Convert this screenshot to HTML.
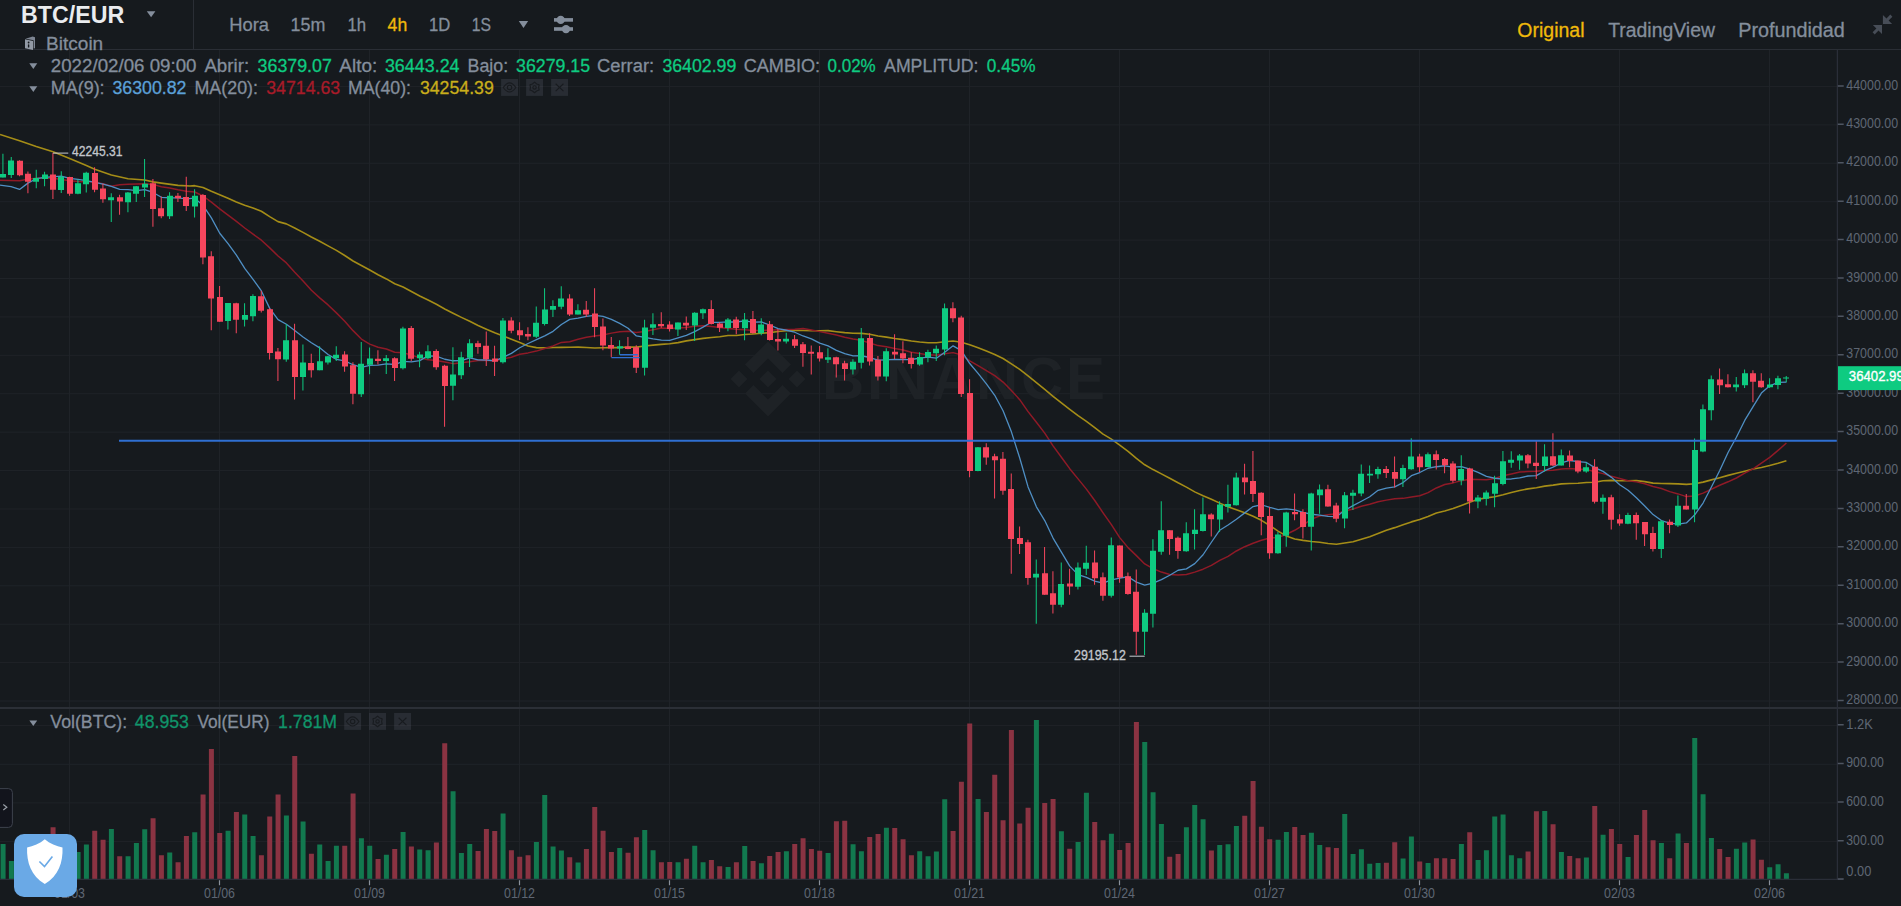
<!DOCTYPE html>
<html lang="es"><head><meta charset="utf-8"><title>BTC/EUR | Binance</title>
<style>
html,body{margin:0;padding:0;background:#161a1e;}
body{width:1901px;height:906px;overflow:hidden;position:relative;font-family:"Liberation Sans",sans-serif;}
</style></head><body>
<svg width="1901" height="906" viewBox="0 0 1901 906" style="position:absolute;left:0;top:0;display:block" font-family="&quot;Liberation Sans&quot;, sans-serif">
<rect width="1901" height="906" fill="#161a1e"/>
<path d="M0 86.45H1837M0 124.86H1837M0 163.27H1837M0 201.68H1837M0 240.09H1837M0 278.5H1837M0 316.91H1837M0 355.32H1837M0 393.73H1837M0 432.14H1837M0 470.55H1837M0 508.96H1837M0 547.37H1837M0 585.78H1837M0 624.19H1837M0 662.6H1837M0 701.01H1837M0 725.6H1837M0 764.3H1837M0 802.9H1837M0 841.6H1837" stroke="#1f2328" stroke-width="1" fill="none"/>
<path d="M69.5 50V879M219.5 50V879M369.5 50V879M519.5 50V879M669.5 50V879M819.5 50V879M969.5 50V879M1119.5 50V879M1269.5 50V879M1419.5 50V879M1619.5 50V879M1769.5 50V879" stroke="#1f2328" stroke-width="1" fill="none" shape-rendering="crispEdges"/>
<g fill="#1e2226"><g transform="translate(730.5 341.5) scale(0.592)"><path d="M38.73 53.2L63.3 28.63l24.58 24.58 14.3-14.3L63.3 0 24.43 38.9zM0 63.31l14.3-14.31 14.31 14.31-14.31 14.3zM38.73 73.41L63.3 97.98l24.58-24.58 14.31 14.29L63.3 126.61 24.43 87.74l-.02-.02zM98 63.31l14.3-14.31 14.31 14.3-14.31 14.32zM77.83 63.3L63.3 48.78 52.58 59.5l-1.24 1.23-2.54 2.54 14.5 14.52 14.53-14.51z"/></g><text x="822" y="399.3" font-size="58.5" font-weight="bold" textLength="283" lengthAdjust="spacing">BINANCE</text></g>
<path d="M1783.9 873.35h5V879.5h-5zM1775.57 864.24h5V879.5h-5zM1767.23 867.28h5V879.5h-5zM1742.23 842.6h5V879.5h-5zM1733.9 848.67h5V879.5h-5zM1708.9 838.04h5V879.5h-5zM1700.57 794.19h5V879.5h-5zM1692.23 738h5V879.5h-5zM1675.57 833.49h5V879.5h-5zM1658.9 842.98h5V879.5h-5zM1625.57 857.02h5V879.5h-5zM1600.57 834.82h5V879.5h-5zM1583.9 857.59h5V879.5h-5zM1558.9 852.09h5V879.5h-5zM1542.23 811.09h5V879.5h-5zM1517.23 858.16h5V879.5h-5zM1508.9 855.32h5V879.5h-5zM1500.57 814.5h5V879.5h-5zM1492.23 816.4h5V879.5h-5zM1483.9 850.19h5V879.5h-5zM1475.57 860.06h5V879.5h-5zM1458.9 844.12h5V879.5h-5zM1425.57 863.1h5V879.5h-5zM1408.9 836.52h5V879.5h-5zM1400.57 858.54h5V879.5h-5zM1375.57 863.1h5V879.5h-5zM1367.23 863.86h5V879.5h-5zM1358.9 849.24h5V879.5h-5zM1350.57 853.99h5V879.5h-5zM1342.23 813.93h5V879.5h-5zM1317.23 844.88h5V879.5h-5zM1308.9 832.73h5V879.5h-5zM1283.9 831.97h5V879.5h-5zM1275.57 839.75h5V879.5h-5zM1233.9 825.89h5V879.5h-5zM1225.57 844.31h5V879.5h-5zM1217.23 845.07h5V879.5h-5zM1200.57 819.25h5V879.5h-5zM1192.23 805.01h5V879.5h-5zM1183.9 827.22h5V879.5h-5zM1158.9 824h5V879.5h-5zM1150.57 792.29h5V879.5h-5zM1142.23 741.99h5V879.5h-5zM1108.9 833.87h5V879.5h-5zM1083.9 792.67h5V879.5h-5zM1075.57 842.03h5V879.5h-5zM1058.9 831.21h5V879.5h-5zM1033.9 719.97h5V879.5h-5zM975.57 798.94h5V879.5h-5zM942.23 799.32h5V879.5h-5zM933.9 851.52h5V879.5h-5zM925.57 856.27h5V879.5h-5zM917.23 851.14h5V879.5h-5zM883.9 827.79h5V879.5h-5zM858.9 851.14h5V879.5h-5zM850.57 844.31h5V879.5h-5zM825.57 853.04h5V879.5h-5zM783.9 851.14h5V879.5h-5zM758.9 863.29h5V879.5h-5zM742.23 846.01h5V879.5h-5zM725.57 866.9h5V879.5h-5zM700.57 862.34h5V879.5h-5zM692.23 845.83h5V879.5h-5zM675.57 862.34h5V879.5h-5zM650.57 850.19h5V879.5h-5zM642.23 830.07h5V879.5h-5zM617.23 848.1h5V879.5h-5zM575.57 862.53h5V879.5h-5zM558.9 850.57h5V879.5h-5zM550.57 846.39h5V879.5h-5zM542.23 794.95h5V879.5h-5zM533.9 842.03h5V879.5h-5zM500.57 813.55h5V879.5h-5zM467.23 843.93h5V879.5h-5zM458.9 853.04h5V879.5h-5zM450.57 791.35h5V879.5h-5zM425.57 850.19h5V879.5h-5zM417.23 849.62h5V879.5h-5zM400.57 831.97h5V879.5h-5zM383.9 854.75h5V879.5h-5zM367.23 845.83h5V879.5h-5zM358.9 838.23h5V879.5h-5zM333.9 845.83h5V879.5h-5zM325.57 861.01h5V879.5h-5zM317.23 844.5h5V879.5h-5zM300.57 821.53h5V879.5h-5zM283.9 815.45h5V879.5h-5zM250.57 835.95h5V879.5h-5zM242.23 814.5h5V879.5h-5zM225.57 830.64h5V879.5h-5zM192.23 832.16h5V879.5h-5zM167.23 852.47h5V879.5h-5zM142.23 829.31h5V879.5h-5zM133.9 842.98h5V879.5h-5zM125.57 856.27h5V879.5h-5zM108.9 829.12h5V879.5h-5zM83.9 844.5h5V879.5h-5zM75.57 852.09h5V879.5h-5zM58.9 842.98h5V879.5h-5zM42.23 848.67h5V879.5h-5zM33.9 854.37h5V879.5h-5zM8.9 861.01h5V879.5h-5zM0.57 843.93h5V879.5h-5z" fill="#12794f"/>
<path d="M1758.9 859.87h5V879.5h-5zM1750.57 839.56h5V879.5h-5zM1725.57 857.02h5V879.5h-5zM1717.23 849.05h5V879.5h-5zM1683.9 842.98h5V879.5h-5zM1667.23 858.16h5V879.5h-5zM1650.57 840.13h5V879.5h-5zM1642.23 809.95h5V879.5h-5zM1633.9 835.01h5V879.5h-5zM1617.23 844.12h5V879.5h-5zM1608.9 828.93h5V879.5h-5zM1592.23 805.96h5V879.5h-5zM1575.57 858.35h5V879.5h-5zM1567.23 856.08h5V879.5h-5zM1550.57 824.19h5V879.5h-5zM1533.9 811.28h5V879.5h-5zM1525.57 851.52h5V879.5h-5zM1467.23 832.35h5V879.5h-5zM1450.57 859.11h5V879.5h-5zM1442.23 858.16h5V879.5h-5zM1433.9 858.35h5V879.5h-5zM1417.23 861.39h5V879.5h-5zM1392.23 842.22h5V879.5h-5zM1383.9 862.72h5V879.5h-5zM1333.9 848.1h5V879.5h-5zM1325.57 847.15h5V879.5h-5zM1300.57 835.01h5V879.5h-5zM1292.23 827.03h5V879.5h-5zM1267.23 839.18h5V879.5h-5zM1258.9 826.84h5V879.5h-5zM1250.57 781.09h5V879.5h-5zM1242.23 815.83h5V879.5h-5zM1208.9 850.57h5V879.5h-5zM1175.57 853.99h5V879.5h-5zM1167.23 856.65h5V879.5h-5zM1133.9 722.06h5V879.5h-5zM1125.57 842.98h5V879.5h-5zM1117.23 850h5V879.5h-5zM1100.57 840.13h5V879.5h-5zM1092.23 822.1h5V879.5h-5zM1067.23 848.67h5V879.5h-5zM1050.57 798.94h5V879.5h-5zM1042.23 803.11h5V879.5h-5zM1025.57 807.86h5V879.5h-5zM1017.23 823.43h5V879.5h-5zM1008.9 730.03h5V879.5h-5zM1000.57 820.2h5V879.5h-5zM992.23 774.64h5V879.5h-5zM983.9 812.04h5V879.5h-5zM967.23 723.39h5V879.5h-5zM958.9 781.85h5V879.5h-5zM950.57 831.02h5V879.5h-5zM908.9 855.32h5V879.5h-5zM900.57 839.18h5V879.5h-5zM892.23 827.98h5V879.5h-5zM875.57 834.06h5V879.5h-5zM867.23 837.09h5V879.5h-5zM842.23 820.77h5V879.5h-5zM833.9 821.15h5V879.5h-5zM817.23 850.76h5V879.5h-5zM808.9 849.05h5V879.5h-5zM800.57 838.23h5V879.5h-5zM792.23 843.93h5V879.5h-5zM775.57 852.09h5V879.5h-5zM767.23 855.89h5V879.5h-5zM750.57 861.01h5V879.5h-5zM733.9 862.34h5V879.5h-5zM717.23 866.14h5V879.5h-5zM708.9 860.06h5V879.5h-5zM683.9 858.73h5V879.5h-5zM667.23 861.96h5V879.5h-5zM658.9 862.34h5V879.5h-5zM633.9 837.28h5V879.5h-5zM625.57 852.85h5V879.5h-5zM608.9 852.09h5V879.5h-5zM600.57 830.64h5V879.5h-5zM592.23 806.91h5V879.5h-5zM583.9 849.05h5V879.5h-5zM567.23 857.21h5V879.5h-5zM525.57 855.32h5V879.5h-5zM517.23 856.84h5V879.5h-5zM508.9 850.19h5V879.5h-5zM492.23 831.02h5V879.5h-5zM483.9 829.12h5V879.5h-5zM475.57 850.95h5V879.5h-5zM442.23 743.32h5V879.5h-5zM433.9 842.6h5V879.5h-5zM408.9 846.39h5V879.5h-5zM392.23 849.05h5V879.5h-5zM375.57 859.11h5V879.5h-5zM350.57 793.62h5V879.5h-5zM342.23 845.83h5V879.5h-5zM308.9 853.8h5V879.5h-5zM292.23 756.04h5V879.5h-5zM275.57 794.57h5V879.5h-5zM267.23 816.4h5V879.5h-5zM258.9 855.32h5V879.5h-5zM233.9 812.04h5V879.5h-5zM217.23 832.92h5V879.5h-5zM208.9 749.01h5V879.5h-5zM200.57 794.57h5V879.5h-5zM183.9 835.95h5V879.5h-5zM175.57 862.34h5V879.5h-5zM158.9 855.32h5V879.5h-5zM150.57 818.3h5V879.5h-5zM117.23 856.27h5V879.5h-5zM100.57 839.75h5V879.5h-5zM92.23 830.64h5V879.5h-5zM67.23 850.57h5V879.5h-5zM50.57 827.22h5V879.5h-5zM25.57 846.77h5V879.5h-5zM17.23 842.98h5V879.5h-5z" fill="#8a3342"/>
<path d="M0 134.52L19.57 140.83L36.24 146.52L53.03 151.82L69.7 158.51L86.36 165.45L94.7 169.24L111.36 174.92L128.03 178.71L144.7 179.97L153.03 181.87L161.36 183.13L178.03 185.4L190 186.01L194.7 185.66L203.01 187.53L211.34 191.31L219.67 194.85L228.01 198.26L236.34 202.05L244.67 205.2L253.01 207.98L261.34 211.26L269.67 216.57L278.01 221.62L286.34 223.89L294.67 227.93L303.01 232.35L311.34 237.02L319.67 241.19L328.07 245.86L336.4 250.38L344.73 255.53L353.07 260.99L361.4 265.54L369.73 270.05L378.07 274.71L386.4 278.92L394.73 283.7L403.07 287.07L411.4 291.46L419.73 296L428.07 300.04L436.4 304.24L444.73 308.96L453.07 313.28L461.4 317.4L469.73 321.33L478.07 325.41L486.4 329.16L494.73 332.8L503.07 335.91L511.4 339.23L519.73 342.45L528.07 345.97L536.4 347.6L544.73 347.87L553.07 347.47L561.4 347.36L569.73 347.23L578.07 347.11L586.4 347.57L594.73 347.97L603.07 347.79L611.4 347.52L619.73 347.67L628.07 346.97L636.4 347.1L644.73 346.03L653.07 345.1L661.4 344.35L669.73 343.71L678.07 342.61L686.4 340.9L694.73 339.62L703.07 338.39L711.4 337.47L719.73 336.71L728.07 335.49L736.4 335.48L744.73 334.49L753.07 333.96L761.4 333.29L769.73 332.6L778.07 331.49L786.4 330.6L794.73 330.31L803.07 330.55L811.4 330.72L819.73 330.71L828.07 330.6L836.4 331.7L844.73 332.65L853.07 333.32L861.4 333.36L869.73 334.33L878.07 336.01L886.4 337.14L894.73 338.55L903.07 339.65L911.4 340.99L919.73 342.06L928.07 342.68L936.4 342.76L944.73 341.76L953.07 341.06L961.4 342.18L969.73 344.77L978.07 347.76L986.4 351.09L994.73 354.45L1003.07 358.49L1011.4 363.9L1019.73 369.36L1028.07 375.99L1036.4 382.61L1044.73 389.38L1053.07 396.3L1061.4 402.92L1069.73 409.38L1078.07 415.58L1086.4 421.32L1094.73 427.67L1103.07 434.06L1111.4 439.15L1119.73 445.12L1128.07 451.33L1136.4 458.3L1144.73 464.77L1153.07 469.58L1161.4 473.9L1169.73 478.27L1178.07 482.82L1186.4 487.1L1194.73 491.89L1203.07 495.71L1211.4 499.27L1219.73 503.11L1228.07 506.85L1236.4 509.82L1244.73 512.78L1253.07 516.2L1261.4 520.33L1269.73 525.45L1278.07 531.1L1286.4 535.95L1294.73 538.96L1303.07 540.36L1311.4 541.51L1319.73 542.31L1328.07 543.47L1336.4 544.18L1344.73 543.08L1353.07 541.8L1361.4 539.2L1369.73 536.7L1378.07 533.55L1386.4 530.26L1394.73 527.63L1403.07 524.66L1411.4 521.89L1419.73 519.5L1428.07 516.4L1436.4 513.02L1444.73 511.02L1453.07 508.6L1461.4 505.47L1469.73 502.21L1478.07 499.33L1486.4 497.88L1494.73 496.7L1503.07 494.76L1511.4 492.48L1519.73 490.54L1528.07 488.88L1536.4 487.68L1544.73 486.11L1553.07 485.13L1561.4 483.91L1569.73 483.5L1578.07 483.23L1586.4 482.56L1594.73 482.18L1603.07 480.79L1611.4 480.42L1619.73 480.69L1628.07 480.71L1636.4 480.61L1644.73 481.63L1653.07 483.12L1661.4 483.49L1669.73 483.64L1678.07 483.91L1686.4 484.33L1694.73 483.73L1703.07 482.11L1711.4 479.87L1719.73 477.68L1728.07 475.39L1736.4 473.31L1744.73 471.22L1753.07 469.09L1761.4 467.41L1769.73 465.52L1778.07 463.35L1786.4 460.77" stroke="#a58d17" stroke-width="1.6" fill="none" stroke-linejoin="round"/>
<path d="M0 180.35L19.57 180.86L27.9 179.34L36.24 178.33L53.03 178.33L69.7 180.86L78.28 181.62L94.7 182.12L103.03 183.76L111.36 186.29L119.7 184.65L128.03 184.14L144.7 183.76L153.03 184.39L161.4 186.81L169.73 187.9L178.07 189.79L186.4 191.33L194.73 192.03L203.07 196L211.4 202.21L219.73 208.8L228.07 215.11L236.4 221.4L244.73 228L253.07 234.16L261.4 240.22L269.73 247.9L278.07 255.99L286.4 262.93L294.73 272.15L303.07 280.97L311.4 290.3L319.73 297.91L328.07 304.92L336.4 312.86L344.73 321.27L353.07 330.65L361.4 339.06L369.73 344.1L378.07 347.22L386.4 349.04L394.73 352.29L403.07 352.73L411.4 354.92L419.73 357.84L428.07 359.86L436.4 360.58L444.73 361.92L453.07 363.64L461.4 362.65L469.73 361.69L478.07 360.52L486.4 360.41L494.73 360.67L503.07 358.97L511.4 357.19L519.73 354.26L528.07 352.89L536.4 351.1L544.73 348.52L553.07 345.91L561.4 342.43L569.73 341.72L578.07 339.29L586.4 337.29L594.73 336.09L603.07 334.99L611.4 333.12L619.73 331.7L628.07 331.29L636.4 332.51L644.73 331.54L653.07 329.8L661.4 328.02L669.73 328.45L678.07 328.03L686.4 327.55L694.73 326.36L703.07 325.68L711.4 326.41L719.73 327.5L728.07 328.55L736.4 329.23L744.73 329.69L753.07 330.62L761.4 330.49L769.73 330.21L778.07 329.87L786.4 329.49L794.73 329.32L803.07 328.59L811.4 329.91L819.73 331.62L828.07 333.17L836.4 334.94L844.73 337.27L853.07 339.08L861.4 340.36L869.73 342.98L878.07 345.61L886.4 346.79L894.73 348.54L903.07 350.07L911.4 352.3L919.73 353.5L928.07 354.87L936.4 355.31L944.73 353.64L953.07 352.62L961.4 355.05L969.73 360.95L978.07 365.62L986.4 370.57L994.73 375.72L1003.07 382.04L1011.4 390.54L1019.73 399.64L1028.07 411.63L1036.4 422.24L1044.73 433.15L1053.07 445.82L1061.4 457.29L1069.73 468.68L1078.07 478.86L1086.4 489.15L1094.73 500.46L1103.07 512.81L1111.4 524.66L1119.73 537.62L1128.07 547.62L1136.4 555.65L1144.73 563.92L1153.07 568.59L1161.4 572.08L1169.73 574.5L1178.07 575.1L1186.4 574.56L1194.73 572.15L1203.07 569.17L1211.4 565.4L1219.73 560.4L1228.07 556.4L1236.4 550.96L1244.73 546.7L1253.07 543.26L1261.4 540.19L1269.73 538.08L1278.07 537.54L1286.4 534.29L1294.73 530.3L1303.07 525.06L1311.4 519.1L1319.73 516.04L1328.07 514.86L1336.4 513.85L1344.73 511.06L1353.07 509.04L1361.4 506.24L1369.73 504.22L1378.07 501.7L1386.4 500.12L1394.73 498.85L1403.07 498.37L1411.4 497.08L1419.73 495.75L1428.07 492.61L1436.4 487.95L1444.73 484.49L1453.07 482.9L1461.4 480.64L1469.73 479.36L1478.07 479.56L1486.4 479.71L1494.73 478.55L1503.07 475.67L1511.4 473.9L1519.73 472.04L1528.07 471.52L1536.4 471.14L1544.73 470.52L1553.07 470.14L1561.4 468.97L1569.73 468.62L1578.07 469.37L1586.4 469.37L1594.73 471.74L1603.07 473.62L1611.4 476.35L1619.73 478.48L1628.07 480.78L1636.4 481.87L1644.73 483.7L1653.07 486.53L1661.4 488.43L1669.73 491.61L1678.07 493.91L1686.4 496.61L1694.73 495.93L1703.07 493.09L1711.4 489.22L1719.73 485.22L1728.07 481.81L1736.4 477.99L1744.73 473.08L1753.07 468.8L1761.4 463.07L1769.73 457.42L1778.07 450.35L1786.4 443.06" stroke="#8f1a27" stroke-width="1.5" fill="none" stroke-linejoin="round"/>
<path d="M0 185.03L11.11 186.67L19.57 189.44L27.9 183.13L36.24 178.71L44.57 177.45L61.36 176.19L69.73 178.31L78.07 179.32L86.4 180.69L94.73 182.29L103.07 184.23L111.4 186.36L119.73 189.35L128.07 189.65L136.4 190.71L144.73 189.58L153.07 192.46L161.4 197.29L169.73 197.96L178.07 197.85L186.4 198.83L194.73 198.2L203.07 205.42L211.4 217.9L219.73 233.24L228.07 243.68L236.4 255.18L244.73 268.43L253.07 279.29L261.4 290.93L269.73 308.38L278.07 319.67L286.4 324.29L294.73 330.43L303.07 337.05L311.4 342.68L319.73 347.83L328.07 354.52L336.4 359.39L344.73 360.89L353.07 364.73L361.4 367.37L369.73 365.31L378.07 365.13L386.4 363.78L394.73 364.52L403.07 361.44L411.4 361.9L419.73 360.57L428.07 355.84L436.4 356.23L444.73 359.26L453.07 360.77L461.4 360.67L469.73 357.93L478.07 359.97L486.4 360.01L494.73 360.82L503.07 357.4L511.4 353.35L519.73 347.71L528.07 343.47L536.4 339.64L544.73 335.87L553.07 331.32L561.4 324.57L569.73 319.33L578.07 318.18L586.4 316.35L594.73 315.45L603.07 316.46L611.4 319.31L619.73 323.41L628.07 328.19L636.4 335.9L644.73 337.34L653.07 338.91L661.4 340.22L669.73 340.44L678.07 337.87L686.4 335.33L694.73 331.6L703.07 327.17L711.4 322.31L719.73 322.35L728.07 321.8L736.4 322L744.73 320.92L753.07 322.1L761.4 321.98L769.73 325.01L778.07 328.62L786.4 330.25L794.73 332.24L803.07 335.98L811.4 338.85L819.73 343.2L828.07 345.9L836.4 350.33L844.73 353.55L853.07 355.8L861.4 355.76L869.73 357.51L878.07 360.13L886.4 359.85L894.73 359.41L903.07 359.55L911.4 359.5L919.73 358.17L928.07 357.08L936.4 358.22L944.73 352.31L953.07 345.84L961.4 350.6L969.73 363.54L978.07 373.41L986.4 383.8L994.73 395.28L1003.07 410.69L1011.4 431.85L1019.73 458.03L1028.07 486.88L1036.4 506.84L1044.73 520.58L1053.07 538.07L1061.4 552.12L1069.73 566.13L1078.07 574.67L1086.4 577.3L1094.73 581.12L1103.07 583.08L1111.4 579.9L1119.73 578.01L1128.07 576.82L1136.4 582.12L1144.73 585.05L1153.07 583.19L1161.4 579.56L1169.73 575.21L1178.07 570.26L1186.4 568.92L1194.73 563.62L1203.07 554.75L1211.4 542.25L1219.73 530.23L1228.07 525.05L1236.4 519.2L1244.73 512.89L1253.07 506.55L1261.4 504.75L1269.73 507.36L1278.07 509.6L1286.4 508.86L1294.73 509.93L1303.07 512.48L1311.4 514.26L1319.73 515.06L1328.07 516.46L1336.4 516.68L1344.73 510.22L1353.07 505.59L1361.4 501.29L1369.73 496.8L1378.07 490.34L1386.4 488.04L1394.73 486.85L1403.07 482.55L1411.4 475.63L1419.73 472.52L1428.07 468.25L1436.4 466.73L1444.73 465.77L1453.07 467.09L1461.4 466.64L1469.73 469.16L1478.07 472.46L1486.4 476.46L1494.73 478.24L1503.07 479.03L1511.4 478.98L1519.73 477.92L1528.07 476L1536.4 475.67L1544.73 470.69L1553.07 467.12L1561.4 462.98L1569.73 460.49L1578.07 461.62L1586.4 462.46L1594.73 467.59L1603.07 471.39L1611.4 477.35L1619.73 484.78L1628.07 490.28L1636.4 497.83L1644.73 505.97L1653.07 514.59L1661.4 520.59L1669.73 523.18L1678.07 524.08L1686.4 522.96L1694.73 514.79L1703.07 503.04L1711.4 487.04L1719.73 470.48L1728.07 452.49L1736.4 437.3L1744.73 420.44L1753.07 406.65L1761.4 393.05L1769.73 385.8L1778.07 382.36L1786.4 382.18" stroke="#4f8fc4" stroke-width="1.3" fill="none" stroke-linejoin="round"/>
<path d="M1785.75 376.04h1V382.35h-1zM1777.42 375.78h1V389.29h-1zM1769.08 378.31h1V388.03h-1zM1744.08 369.47h1V388.03h-1zM1735.75 377.05h1V391.57h-1zM1710.75 375.4h1V420.35h-1zM1702.42 404.44h1V452.17h-1zM1694.08 438.5h1V522.2h-1zM1677.42 495.4h1V526.97h-1zM1660.75 520.03h1V557.9h-1zM1627.42 512.83h1V524.19h-1zM1602.42 494.39h1V513.71h-1zM1585.75 462.63h1V472.73h-1zM1560.75 449.62h1V465.4h-1zM1544.08 444.19h1V471.46h-1zM1519.08 454.04h1V469.82h-1zM1510.75 451.26h1V467.68h-1zM1502.42 450.88h1V485.35h-1zM1494.08 475.76h1V507.32h-1zM1485.75 490.4h1V505.56h-1zM1477.42 495.08h1V508.33h-1zM1460.75 455.3h1V485.35h-1zM1427.42 452.53h1V467.3h-1zM1410.75 438.26h1V469.82h-1zM1402.42 464.77h1V487.12h-1zM1377.42 466.67h1V478.66h-1zM1369.08 465.45h1V482.88h-1zM1360.75 464.57h1V496.14h-1zM1352.42 489.82h1V510.03h-1zM1344.08 491.97h1V528.33h-1zM1319.08 484.39h1V513.81h-1zM1310.75 492.73h1V550.43h-1zM1285.75 511.67h1V546.64h-1zM1277.42 532.12h1V553.84h-1zM1235.75 472.78h1V505.61h-1zM1227.42 484.77h1V512.55h-1zM1219.08 501.19h1V532.12h-1zM1202.42 497.4h1V531.49h-1zM1194.08 509.14h1V549.55h-1zM1185.75 522.27h1V551.69h-1zM1160.75 501.19h1V554.85h-1zM1152.42 539.3h1V627.6h-1zM1144.08 609.2h1V655h-1zM1110.75 537.58h1V597.42h-1zM1085.75 545.66h1V575.08h-1zM1077.42 562.45h1V589.6h-1zM1060.75 562.45h1V607.27h-1zM1035.75 559.5h1V623.8h-1zM977.42 446.97h1V471.34h-1zM944.08 303.59h1V355.35h-1zM935.75 345.51h1V360.91h-1zM927.42 349.7h1V362.32h-1zM919.08 352.22h1V365.86h-1zM885.75 348.18h1V381.26h-1zM860.75 327.98h1V368.38h-1zM852.42 359.29h1V374.44h-1zM827.42 348.18h1V363.08h-1zM785.75 332.78h1V343.38h-1zM760.75 318.13h1V335.3h-1zM744.08 313.08h1V340.35h-1zM727.42 317.88h1V331.14h-1zM702.42 308.51h1V318.99h-1zM694.08 312.3h1V340.96h-1zM677.42 322.4h1V335.91h-1zM652.42 313.18h1V335.03h-1zM644.08 319.87h1V375.43h-1zM619.08 340.2h1V354.72h-1zM577.42 304.34h1V314.44h-1zM560.75 286.16h1V309.14h-1zM552.42 300.3h1V316.97h-1zM544.08 288.31h1V325.56h-1zM535.75 306.62h1V337.93h-1zM502.42 317.98h1V363.43h-1zM469.08 339.19h1V366.97h-1zM460.75 351.82h1V379.09h-1zM452.42 347.15h1V400.18h-1zM427.42 345.3h1V359.19h-1zM419.08 351.87h1V367.27h-1zM402.42 326.87h1V369.55h-1zM385.75 355.03h1V373.96h-1zM369.08 347.45h1V374.34h-1zM360.75 342.02h1V397.07h-1zM335.75 346.19h1V360.96h-1zM327.42 355.66h1V364.49h-1zM319.08 346.19h1V370.18h-1zM302.42 344.55h1V390.38h-1zM285.75 324.34h1V361.72h-1zM252.42 294.17h1V321.31h-1zM244.08 303.26h1V326.62h-1zM227.42 303.01h1V329.39h-1zM194.08 189.19h1V217.47h-1zM169.08 192.22h1V219.12h-1zM144.08 158.89h1V197.02h-1zM135.75 185.91h1V202.07h-1zM127.42 191.97h1V212.17h-1zM110.75 193.23h1V222.02h-1zM85.75 171.77h1V192.6h-1zM77.42 179.34h1V194.24h-1zM60.75 171.14h1V192.98h-1zM44.08 171.77h1V186.29h-1zM35.75 169.87h1V188.18h-1zM10.75 156.99h1V178.08h-1zM2.42 153.84h1V177.45h-1z" fill="#0ecb81"/>
<path d="M1783 377.55h6V378.56h-6zM1775 378.31h6V385h-6zM1767 384.62h6V387.15h-6zM1742 373.26h6V385.25h-6zM1733 384.62h6V387.15h-6zM1708 379.19h6V410.25h-6zM1700 409.24h6V451.54h-6zM1692 449.9h6V509.5h-6zM1675 505.76h6V525.45h-6zM1658 521.29h6V549.07h-6zM1625 514.97h6V523.81h-6zM1600 497.68h6V501.72h-6zM1583 467.3h6V471.46h-6zM1558 455.3h6V465.4h-6zM1542 456.57h6V466.04h-6zM1517 455.56h6V460.61h-6zM1508 459.72h6V462.63h-6zM1500 461.36h6V484.09h-6zM1492 483.33h6V493.81h-6zM1483 492.55h6V498.86h-6zM1475 497.6h6V501.39h-6zM1458 468.94h6V480.56h-6zM1425 454.29h6V466.92h-6zM1408 456.57h6V469.19h-6zM1400 467.93h6V479.29h-6zM1375 468.94h6V474.24h-6zM1367 473.79h6V475.56h-6zM1358 473.79h6V493.61h-6zM1350 492.73h6V495.76h-6zM1342 495.25h6V518.48h-6zM1317 489.44h6V495.25h-6zM1308 493.61h6V526.82h-6zM1283 512.55h6V535.66h-6zM1275 534.39h6V553.33h-6zM1233 477.58h6V505.35h-6zM1225 504.09h6V506.87h-6zM1217 504.6h6V519.49h-6zM1200 514.19h6V531.11h-6zM1192 529.85h6V534.02h-6zM1183 533.13h6V551.31h-6zM1158 530.23h6V551.69h-6zM1150 550.7h6V613.7h-6zM1142 612.8h6V631.7h-6zM1108 545.15h6V595.66h-6zM1083 562.83h6V568.76h-6zM1075 567.5h6V586.82h-6zM1058 583.91h6V604.75h-6zM1033 573.8h6V577.6h-6zM975 447.35h6V470.96h-6zM942 308.26h6V349.55h-6zM933 348.66h6V353.33h-6zM925 351.97h6V357.27h-6zM917 357.02h6V364.6h-6zM883 351.34h6V376.59h-6zM858 338.33h6V362.7h-6zM850 361.82h6V369.39h-6zM825 357.27h6V359.8h-6zM783 338.71h6V341.62h-6zM758 324.44h6V333.28h-6zM742 319.39h6V328.23h-6zM725 319.39h6V327.98h-6zM700 309.14h6V313.18h-6zM692 312.68h6V325.56h-6zM675 322.4h6V329.6h-6zM650 324.29h6V327.83h-6zM642 327.45h6V367.85h-6zM617 346.26h6V348.41h-6zM575 310.15h6V314.44h-6zM558 298.41h6V306.87h-6zM550 305.98h6V309.77h-6zM542 309.39h6V324.04h-6zM533 322.78h6V336.67h-6zM500 320.51h6V362.17h-6zM467 343.36h6V357.63h-6zM458 357.25h6V375.18h-6zM450 374.55h6V385.66h-6zM425 351.24h6V358.18h-6zM417 354.39h6V358.18h-6zM400 328.51h6V368.28h-6zM383 358.18h6V360.96h-6zM367 358.56h6V364.75h-6zM358 363.86h6V394.17h-6zM333 354.65h6V358.18h-6zM325 356.29h6V362.6h-6zM317 361.34h6V370.18h-6zM300 362.6h6V377.12h-6zM283 340.13h6V359.44h-6zM250 296.06h6V316.26h-6zM242 315h6V319.67h-6zM225 303.01h6V320.93h-6zM192 195.76h6V206.49h-6zM167 195.76h6V216.21h-6zM142 183.76h6V187.55h-6zM133 186.29h6V193.86h-6zM125 192.6h6V202.32h-6zM108 197.27h6V200.18h-6zM83 172.78h6V184.14h-6zM75 183.13h6V193.86h-6zM58 176.82h6V190.08h-6zM42 174.55h6V179.09h-6zM33 178.08h6V181.87h-6zM8 160.4h6V174.92h-6zM0 174.04h6V177.45h-6z" fill="#0ecb81"/>
<path d="M1760.75 373.26h1V387.78h-1zM1752.42 370.35h1V402.3h-1zM1727.42 374.14h1V387.53h-1zM1719.08 368.59h1V394.09h-1zM1685.75 493.89h1V509.55h-1zM1669.08 519.39h1V533.28h-1zM1652.42 526.72h1V551.59h-1zM1644.08 521.92h1V545.91h-1zM1635.75 512.45h1V539.85h-1zM1619.08 514.34h1V525.71h-1zM1610.75 494.77h1V529.49h-1zM1594.08 459.34h1V503.54h-1zM1577.42 460.61h1V473.23h-1zM1569.08 450.51h1V467.3h-1zM1552.42 433.21h1V466.04h-1zM1535.75 440.78h1V479.04h-1zM1527.42 454.04h1V468.18h-1zM1469.08 467.68h1V513.38h-1zM1452.42 461.36h1V482.83h-1zM1444.08 458.08h1V473.23h-1zM1435.75 450.51h1V469.44h-1zM1419.08 453.79h1V471.97h-1zM1394.08 456.57h1V487.5h-1zM1385.75 466.04h1V478.03h-1zM1335.75 502.83h1V522.27h-1zM1327.42 484.77h1V506.87h-1zM1302.42 509.14h1V538.43h-1zM1294.08 493.61h1V520.13h-1zM1269.08 507.12h1V558.64h-1zM1260.75 492.35h1V535.28h-1zM1252.42 451.06h1V502.07h-1zM1244.08 463.69h1V494.49h-1zM1210.75 513.18h1V536.54h-1zM1177.42 536.54h1V558.64h-1zM1169.08 530.23h1V554.85h-1zM1135.75 569.4h1V654.7h-1zM1127.42 572.55h1V594.65h-1zM1119.08 545.4h1V582.65h-1zM1102.42 572.55h1V600.71h-1zM1094.08 550.45h1V584.8h-1zM1069.08 568.76h1V594.65h-1zM1052.42 571.29h1V613.59h-1zM1044.08 546.92h1V594.65h-1zM1027.42 539.72h1V584.8h-1zM1019.08 526.46h1V553.99h-1zM1010.75 473.5h1V573.8h-1zM1002.42 452.02h1V494.7h-1zM994.08 453.66h1V498.48h-1zM985.75 443.18h1V464.65h-1zM969.08 379.3h1V477.3h-1zM960.75 315.83h1V397.02h-1zM952.42 302.32h1V322.15h-1zM910.75 352.22h1V368.38h-1zM902.42 341.24h1V363.33h-1zM894.08 334.29h1V358.91h-1zM877.42 356.01h1V380.38h-1zM869.08 333.28h1V365.61h-1zM844.08 360.81h1V380.38h-1zM835.75 356.77h1V377.47h-1zM819.08 345.91h1V361.44h-1zM810.75 345.4h1V374.44h-1zM802.42 342.12h1V366.87h-1zM794.08 334.92h1V347.93h-1zM777.42 329.24h1V350.45h-1zM769.08 321.04h1V340.61h-1zM752.42 310.93h1V333.66h-1zM735.75 316.87h1V334.29h-1zM719.08 322.3h1V332.02h-1zM710.75 300.3h1V324.55h-1zM685.75 316.46h1V329.97h-1zM669.08 321.14h1V331.62h-1zM660.75 312.3h1V327.83h-1zM635.75 345.25h1V373.03h-1zM627.42 337.05h1V349.29h-1zM610.75 337.05h1V357.25h-1zM602.42 318.61h1V350.18h-1zM594.08 288.31h1V337.17h-1zM585.75 300.93h1V316.97h-1zM569.08 294.24h1V316.09h-1zM527.42 327.32h1V340.2h-1zM519.08 322.27h1V339.95h-1zM510.75 317.35h1V333.13h-1zM494.08 345.63h1V375.93h-1zM485.75 331.62h1V366.09h-1zM477.42 340.83h1V353.84h-1zM444.08 364.82h1V426.69h-1zM435.75 349.29h1V369.87h-1zM410.75 325.98h1V361.34h-1zM394.08 357.17h1V380.91h-1zM377.42 350.35h1V364.49h-1zM352.42 362.22h1V404.27h-1zM344.08 351.24h1V371.82h-1zM310.75 353.76h1V377.5h-1zM294.08 323.84h1V399.6h-1zM277.42 348.08h1V380.91h-1zM269.08 308.31h1V359.44h-1zM260.75 290.63h1V312.47h-1zM235.75 302.63h1V333.18h-1zM219.08 286h1V321.8h-1zM210.75 251.3h1V330.2h-1zM202.42 194.1h1V264.3h-1zM185.75 176.82h1V210.91h-1zM177.42 192.98h1V202.07h-1zM160.75 196.39h1V218.23h-1zM152.42 179.09h1V226.69h-1zM119.08 194.75h1V214.7h-1zM102.42 183.76h1V202.7h-1zM94.08 167.35h1V192.22h-1zM69.08 176.82h1V195.76h-1zM52.42 153.08h1V198.91h-1zM27.42 171.52h1V193.23h-1zM19.08 160.15h1V176.19h-1z" fill="#f6465d"/>
<path d="M1758 380.83h6V387.15h-6zM1750 373.26h6V381.72h-6zM1725 384.24h6V387.15h-6zM1717 379.57h6V385.25h-6zM1683 505.76h6V509.55h-6zM1667 521.67h6V525.08h-6zM1650 533.03h6V549.07h-6zM1642 521.92h6V534.29h-6zM1633 514.97h6V523.18h-6zM1617 519.14h6V523.43h-6zM1608 497.3h6V519.65h-6zM1592 466.67h6V501.77h-6zM1575 460.61h6V471.46h-6zM1567 455.56h6V460.98h-6zM1550 456.31h6V465.4h-6zM1533 462.63h6V466.04h-6zM1525 455.3h6V463.51h-6zM1467 468.56h6V501.39h-6zM1450 463.51h6V480.81h-6zM1442 459.09h6V465.15h-6zM1433 454.29h6V460.1h-6zM1417 456.57h6V467.3h-6zM1392 471.97h6V478.66h-6zM1383 468.94h6V472.98h-6zM1333 505.61h6V518.86h-6zM1325 489.19h6V506.62h-6zM1300 511.92h6V527.07h-6zM1292 511.92h6V514.19h-6zM1267 515.96h6V553.33h-6zM1258 492.73h6V516.97h-6zM1250 480.98h6V493.99h-6zM1242 477.58h6V482.25h-6zM1208 514.44h6V519.24h-6zM1175 537.8h6V551.06h-6zM1167 530.23h6V539.07h-6zM1133 591.8h6V631.7h-6zM1125 576.34h6V594.02h-6zM1117 545.4h6V577.6h-6zM1100 577.22h6V595.66h-6zM1092 562.45h6V578.23h-6zM1067 583.54h6V586.44h-6zM1050 593.13h6V604.75h-6zM1042 573.18h6V594.65h-6zM1025 542.25h6V577.98h-6zM1017 538.08h6V543.89h-6zM1008 489h6V539.1h-6zM1000 458.71h6V490.66h-6zM992 456.19h6V460.35h-6zM983 447.35h6V457.45h-6zM967 392.9h6V471h-6zM958 317.47h6V394.12h-6zM950 308.26h6V318.36h-6zM908 357.65h6V363.96h-6zM900 353.23h6V358.54h-6zM892 351.72h6V354.49h-6zM875 359.8h6V376.59h-6zM867 338.08h6V361.44h-6zM842 363.33h6V369.02h-6zM833 357.27h6V364.34h-6zM817 352.22h6V358.54h-6zM808 351.72h6V353.86h-6zM800 344.14h6V352.98h-6zM792 339.34h6V345.66h-6zM775 339.09h6V341.62h-6zM767 324.19h6V339.97h-6zM750 318.89h6V333.03h-6zM733 319.39h6V327.98h-6zM717 323.56h6V327.73h-6zM708 308.89h6V324.04h-6zM683 322.78h6V325.56h-6zM667 324.55h6V329.09h-6zM658 324.04h6V326.19h-6zM633 347.15h6V367.73h-6zM625 346.52h6V349.04h-6zM608 345h6V348.41h-6zM600 326.44h6V345.51h-6zM592 313.56h6V327.07h-6zM583 309.77h6V314.44h-6zM567 298.41h6V314.44h-6zM525 333.89h6V336.41h-6zM517 330.35h6V335.15h-6zM508 320.51h6V330.86h-6zM492 358.51h6V361.67h-6zM483 345.63h6V359.14h-6zM475 343.36h6V346.89h-6zM442 365.71h6V385.91h-6zM433 350.93h6V367.35h-6zM408 327.88h6V358.81h-6zM392 358.18h6V368.03h-6zM375 358.81h6V360.96h-6zM350 365.13h6V393.79h-6zM342 354.39h6V366.39h-6zM308 362.98h6V370.3h-6zM292 340.13h6V377.12h-6zM275 351.62h6V359.19h-6zM267 309.19h6V352.88h-6zM258 296.31h6V310.83h-6zM233 303.26h6V319.67h-6zM217 297h6V321.8h-6zM208 256.3h6V298.6h-6zM200 195.1h6V257.6h-6zM183 197.02h6V206.11h-6zM175 195.76h6V198.28h-6zM158 208.13h6V216.21h-6zM150 183.13h6V209.02h-6zM117 197.27h6V201.44h-6zM100 188.56h6V199.29h-6zM92 173.03h6V189.7h-6zM67 177.07h6V193.86h-6zM50 174.55h6V189.82h-6zM25 173.66h6V181.87h-6zM17 160.66h6V175.3h-6z" fill="#f6465d"/>
<path d="M119 440.8H1837" stroke="#2f6fd2" stroke-width="2" fill="none"/>
<path d="M611.4 357.6H639.7M619.8 354.8H637.8" stroke="#2f6fd2" stroke-width="1.4" fill="none"/>
<path d="M53 153.1H68.3M1129.5 656.2H1144.7" stroke="#c8ccd2" stroke-width="1" fill="none"/>
<text x="72" y="156.4" font-size="14" fill="#c3c7cd" stroke="#c3c7cd" stroke-width="0.3" textLength="50.5" lengthAdjust="spacingAndGlyphs">42245.31</text>
<text x="1074" y="660.2" font-size="14" fill="#c3c7cd" stroke="#c3c7cd" stroke-width="0.3" textLength="51.8" lengthAdjust="spacingAndGlyphs">29195.12</text>
<rect x="1837" y="50" width="64" height="856" fill="#161a1e"/>
<rect x="0" y="879" width="1901" height="27" fill="#161a1e"/>
<path d="M0 708H1901" stroke="#2b2f36" stroke-width="2" fill="none"/>
<path d="M1837.4 50V879.5M0 879.4H1843" stroke="#2a2e38" stroke-width="1.3" fill="none"/>
<text x="1846.3" y="90" font-size="14.3" fill="#5e6673" textLength="51.8" lengthAdjust="spacingAndGlyphs">44000.00</text>
<text x="1846.3" y="128" font-size="14.3" fill="#5e6673" textLength="51.8" lengthAdjust="spacingAndGlyphs">43000.00</text>
<text x="1846.3" y="166" font-size="14.3" fill="#5e6673" textLength="51.8" lengthAdjust="spacingAndGlyphs">42000.00</text>
<text x="1846.3" y="205" font-size="14.3" fill="#5e6673" textLength="51.8" lengthAdjust="spacingAndGlyphs">41000.00</text>
<text x="1846.3" y="243" font-size="14.3" fill="#5e6673" textLength="51.8" lengthAdjust="spacingAndGlyphs">40000.00</text>
<text x="1846.3" y="282" font-size="14.3" fill="#5e6673" textLength="51.8" lengthAdjust="spacingAndGlyphs">39000.00</text>
<text x="1846.3" y="320" font-size="14.3" fill="#5e6673" textLength="51.8" lengthAdjust="spacingAndGlyphs">38000.00</text>
<text x="1846.3" y="358" font-size="14.3" fill="#5e6673" textLength="51.8" lengthAdjust="spacingAndGlyphs">37000.00</text>
<text x="1846.3" y="397" font-size="14.3" fill="#5e6673" textLength="51.8" lengthAdjust="spacingAndGlyphs">36000.00</text>
<text x="1846.3" y="435" font-size="14.3" fill="#5e6673" textLength="51.8" lengthAdjust="spacingAndGlyphs">35000.00</text>
<text x="1846.3" y="474" font-size="14.3" fill="#5e6673" textLength="51.8" lengthAdjust="spacingAndGlyphs">34000.00</text>
<text x="1846.3" y="512" font-size="14.3" fill="#5e6673" textLength="51.8" lengthAdjust="spacingAndGlyphs">33000.00</text>
<text x="1846.3" y="550" font-size="14.3" fill="#5e6673" textLength="51.8" lengthAdjust="spacingAndGlyphs">32000.00</text>
<text x="1846.3" y="589" font-size="14.3" fill="#5e6673" textLength="51.8" lengthAdjust="spacingAndGlyphs">31000.00</text>
<text x="1846.3" y="627" font-size="14.3" fill="#5e6673" textLength="51.8" lengthAdjust="spacingAndGlyphs">30000.00</text>
<text x="1846.3" y="666" font-size="14.3" fill="#5e6673" textLength="51.8" lengthAdjust="spacingAndGlyphs">29000.00</text>
<text x="1846.3" y="704" font-size="14.3" fill="#5e6673" textLength="51.8" lengthAdjust="spacingAndGlyphs">28000.00</text>
<text x="1846.3" y="728.7" font-size="14.3" fill="#5e6673" textLength="26.5" lengthAdjust="spacingAndGlyphs">1.2K</text>
<text x="1846.3" y="767.4" font-size="14.3" fill="#5e6673" textLength="37.5" lengthAdjust="spacingAndGlyphs">900.00</text>
<text x="1846.3" y="806" font-size="14.3" fill="#5e6673" textLength="37.5" lengthAdjust="spacingAndGlyphs">600.00</text>
<text x="1846.3" y="844.7" font-size="14.3" fill="#5e6673" textLength="37.5" lengthAdjust="spacingAndGlyphs">300.00</text>
<text x="1846.3" y="876.1" font-size="14.3" fill="#5e6673" textLength="25" lengthAdjust="spacingAndGlyphs">0.00</text>
<text x="54" y="898.3" font-size="14.3" fill="#5e6673" textLength="31" lengthAdjust="spacingAndGlyphs">01/03</text>
<text x="204" y="898.3" font-size="14.3" fill="#5e6673" textLength="31" lengthAdjust="spacingAndGlyphs">01/06</text>
<text x="354" y="898.3" font-size="14.3" fill="#5e6673" textLength="31" lengthAdjust="spacingAndGlyphs">01/09</text>
<text x="504" y="898.3" font-size="14.3" fill="#5e6673" textLength="31" lengthAdjust="spacingAndGlyphs">01/12</text>
<text x="654" y="898.3" font-size="14.3" fill="#5e6673" textLength="31" lengthAdjust="spacingAndGlyphs">01/15</text>
<text x="804" y="898.3" font-size="14.3" fill="#5e6673" textLength="31" lengthAdjust="spacingAndGlyphs">01/18</text>
<text x="954" y="898.3" font-size="14.3" fill="#5e6673" textLength="31" lengthAdjust="spacingAndGlyphs">01/21</text>
<text x="1104" y="898.3" font-size="14.3" fill="#5e6673" textLength="31" lengthAdjust="spacingAndGlyphs">01/24</text>
<text x="1254" y="898.3" font-size="14.3" fill="#5e6673" textLength="31" lengthAdjust="spacingAndGlyphs">01/27</text>
<text x="1404" y="898.3" font-size="14.3" fill="#5e6673" textLength="31" lengthAdjust="spacingAndGlyphs">01/30</text>
<text x="1604" y="898.3" font-size="14.3" fill="#5e6673" textLength="31" lengthAdjust="spacingAndGlyphs">02/03</text>
<text x="1754" y="898.3" font-size="14.3" fill="#5e6673" textLength="31" lengthAdjust="spacingAndGlyphs">02/06</text>
<path d="M1837.8 85.9h5.9M1837.8 124.31h5.9M1837.8 162.72h5.9M1837.8 201.13h5.9M1837.8 239.54h5.9M1837.8 277.95h5.9M1837.8 316.36h5.9M1837.8 354.77h5.9M1837.8 393.18h5.9M1837.8 431.59h5.9M1837.8 470h5.9M1837.8 508.41h5.9M1837.8 546.82h5.9M1837.8 585.23h5.9M1837.8 623.64h5.9M1837.8 662.05h5.9M1837.8 700.46h5.9M1837.8 724.7h5.9M1837.8 763.4h5.9M1837.8 802h5.9M1837.8 840.7h5.9M1837.8 878.9h5.9" stroke="#4f5662" stroke-width="1.5" fill="none"/>
<path d="M69.5 880.2v5M219.5 880.2v5M369.5 880.2v5M519.5 880.2v5M669.5 880.2v5M819.5 880.2v5M969.5 880.2v5M1119.5 880.2v5M1269.5 880.2v5M1419.5 880.2v5M1619.5 880.2v5M1769.5 880.2v5" stroke="#8a919c" stroke-width="1.2" fill="none"/>
<rect x="1838" y="366.2" width="64" height="23.9" fill="#0ecb81"/>
<text x="1848.8" y="381.4" font-size="14" fill="#fff" stroke="#fff" stroke-width="0.35" textLength="55" lengthAdjust="spacingAndGlyphs">36402.99</text>
<rect x="0" y="0" width="1901" height="49" fill="#161a1e"/>
<path d="M0 49.5H1901M193.5 0V49" stroke="#2a2e35" stroke-width="1" fill="none" shape-rendering="crispEdges"/>
<text x="21" y="23.2" font-size="24.5" fill="#eaecef" font-weight="bold" textLength="103.2" lengthAdjust="spacingAndGlyphs">BTC/EUR</text>
<text x="46.1" y="49.6" font-size="19" fill="#848e9c" font-weight="normal" textLength="57.1" lengthAdjust="spacingAndGlyphs" stroke="#848e9c" stroke-width="0.3">Bitcoin</text>
<text x="229.2" y="30.9" font-size="19" fill="#848e9c" font-weight="normal" textLength="39.8" lengthAdjust="spacingAndGlyphs" stroke="#848e9c" stroke-width="0.3">Hora</text>
<text x="290.5" y="30.9" font-size="19" fill="#848e9c" font-weight="normal" textLength="34.8" lengthAdjust="spacingAndGlyphs" stroke="#848e9c" stroke-width="0.3">15m</text>
<text x="347.4" y="30.9" font-size="19" fill="#848e9c" font-weight="normal" textLength="18.7" lengthAdjust="spacingAndGlyphs" stroke="#848e9c" stroke-width="0.3">1h</text>
<text x="387.6" y="30.9" font-size="19" fill="#f0b90b" font-weight="normal" textLength="19.6" lengthAdjust="spacingAndGlyphs" stroke="#f0b90b" stroke-width="0.3">4h</text>
<text x="428.9" y="30.9" font-size="19" fill="#848e9c" font-weight="normal" textLength="21.3" lengthAdjust="spacingAndGlyphs" stroke="#848e9c" stroke-width="0.3">1D</text>
<text x="471.7" y="30.9" font-size="19" fill="#848e9c" font-weight="normal" textLength="19.3" lengthAdjust="spacingAndGlyphs" stroke="#848e9c" stroke-width="0.3">1S</text>
<text x="1517.3" y="36.9" font-size="20" fill="#f0b90b" font-weight="normal" textLength="67.2" lengthAdjust="spacingAndGlyphs" stroke="#f0b90b" stroke-width="0.3">Original</text>
<text x="1608.2" y="36.9" font-size="20" fill="#848e9c" font-weight="normal" textLength="106.8" lengthAdjust="spacingAndGlyphs" stroke="#848e9c" stroke-width="0.3">TradingView</text>
<text x="1738.2" y="36.9" font-size="20" fill="#848e9c" font-weight="normal" textLength="106.7" lengthAdjust="spacingAndGlyphs" stroke="#848e9c" stroke-width="0.3">Profundidad</text>
<text x="50.8" y="71.6" font-size="18.8" fill="#848e9c" font-weight="normal" textLength="145.7" lengthAdjust="spacingAndGlyphs" stroke="#848e9c" stroke-width="0.3">2022/02/06 09:00</text>
<text x="204.4" y="71.6" font-size="18.8" fill="#848e9c" font-weight="normal" textLength="44.7" lengthAdjust="spacingAndGlyphs" stroke="#848e9c" stroke-width="0.3">Abrir:</text>
<text x="257.6" y="71.6" font-size="18.8" fill="#0ecb81" font-weight="normal" textLength="74.3" lengthAdjust="spacingAndGlyphs" stroke="#0ecb81" stroke-width="0.3">36379.07</text>
<text x="339.3" y="71.6" font-size="18.8" fill="#848e9c" font-weight="normal" textLength="37.9" lengthAdjust="spacingAndGlyphs" stroke="#848e9c" stroke-width="0.3">Alto:</text>
<text x="384.9" y="71.6" font-size="18.8" fill="#0ecb81" font-weight="normal" textLength="74.7" lengthAdjust="spacingAndGlyphs" stroke="#0ecb81" stroke-width="0.3">36443.24</text>
<text x="467.5" y="71.6" font-size="18.8" fill="#848e9c" font-weight="normal" textLength="40.7" lengthAdjust="spacingAndGlyphs" stroke="#848e9c" stroke-width="0.3">Bajo:</text>
<text x="516.1" y="71.6" font-size="18.8" fill="#0ecb81" font-weight="normal" textLength="74" lengthAdjust="spacingAndGlyphs" stroke="#0ecb81" stroke-width="0.3">36279.15</text>
<text x="597" y="71.6" font-size="18.8" fill="#848e9c" font-weight="normal" textLength="57.1" lengthAdjust="spacingAndGlyphs" stroke="#848e9c" stroke-width="0.3">Cerrar:</text>
<text x="662.4" y="71.6" font-size="18.8" fill="#0ecb81" font-weight="normal" textLength="73.9" lengthAdjust="spacingAndGlyphs" stroke="#0ecb81" stroke-width="0.3">36402.99</text>
<text x="743.7" y="71.6" font-size="18.8" fill="#848e9c" font-weight="normal" textLength="76.4" lengthAdjust="spacingAndGlyphs" stroke="#848e9c" stroke-width="0.3">CAMBIO:</text>
<text x="827.5" y="71.6" font-size="18.8" fill="#0ecb81" font-weight="normal" textLength="48.2" lengthAdjust="spacingAndGlyphs" stroke="#0ecb81" stroke-width="0.3">0.02%</text>
<text x="884.1" y="71.6" font-size="18.8" fill="#848e9c" font-weight="normal" textLength="94.3" lengthAdjust="spacingAndGlyphs" stroke="#848e9c" stroke-width="0.3">AMPLITUD:</text>
<text x="986.8" y="71.6" font-size="18.8" fill="#0ecb81" font-weight="normal" textLength="48.8" lengthAdjust="spacingAndGlyphs" stroke="#0ecb81" stroke-width="0.3">0.45%</text>
<text x="50.8" y="93.8" font-size="18.8" fill="#848e9c" font-weight="normal" textLength="53.8" lengthAdjust="spacingAndGlyphs" stroke="#848e9c" stroke-width="0.3">MA(9):</text>
<text x="112.4" y="93.8" font-size="18.8" fill="#5ba0d8" font-weight="normal" textLength="74.1" lengthAdjust="spacingAndGlyphs" stroke="#5ba0d8" stroke-width="0.3">36300.82</text>
<text x="194.5" y="93.8" font-size="18.8" fill="#848e9c" font-weight="normal" textLength="63.5" lengthAdjust="spacingAndGlyphs" stroke="#848e9c" stroke-width="0.3">MA(20):</text>
<text x="266.2" y="93.8" font-size="18.8" fill="#a81b29" font-weight="normal" textLength="74" lengthAdjust="spacingAndGlyphs" stroke="#a81b29" stroke-width="0.3">34714.63</text>
<text x="347.9" y="93.8" font-size="18.8" fill="#848e9c" font-weight="normal" textLength="63.1" lengthAdjust="spacingAndGlyphs" stroke="#848e9c" stroke-width="0.3">MA(40):</text>
<text x="419.9" y="93.8" font-size="18.8" fill="#c9ae1b" font-weight="normal" textLength="73.9" lengthAdjust="spacingAndGlyphs" stroke="#c9ae1b" stroke-width="0.3">34254.39</text>
<text x="50.3" y="728" font-size="18.8" fill="#848e9c" font-weight="normal" textLength="76.9" lengthAdjust="spacingAndGlyphs" stroke="#848e9c" stroke-width="0.3">Vol(BTC):</text>
<text x="134.8" y="728" font-size="18.8" fill="#10946a" font-weight="normal" textLength="54.1" lengthAdjust="spacingAndGlyphs" stroke="#10946a" stroke-width="0.3">48.953</text>
<text x="197.4" y="728" font-size="18.8" fill="#848e9c" font-weight="normal" textLength="72.1" lengthAdjust="spacingAndGlyphs" stroke="#848e9c" stroke-width="0.3">Vol(EUR)</text>
<text x="278.1" y="728" font-size="18.8" fill="#10946a" font-weight="normal" textLength="58.9" lengthAdjust="spacingAndGlyphs" stroke="#10946a" stroke-width="0.3">1.781M</text>
<path d="M146.8 11.2H155.4L151.10000000000002 17.3Z" fill="#848e9c"/><path d="M518.8 21.0H528.2L523.5 28.0Z" fill="#848e9c"/><path d="M29.3 63.3H37.3L33.3 69.0Z" fill="#848e9c"/><path d="M29.3 86.2H37.3L33.3 91.9Z" fill="#848e9c"/><path d="M29.4 720.4H37.2L33.3 726.0Z" fill="#848e9c"/><g fill="#848e9c"><rect x="554" y="18.1" width="19" height="3.6"/><circle cx="560.7" cy="19.9" r="4.2"/><rect x="554" y="27.2" width="19" height="3.6"/><circle cx="566" cy="29.1" r="4.2"/></g><g fill="#474d57"><path d="M1882.9 14.9V24H1892.1L1888.6 20.5L1892.4 16.7L1890.3 14.6L1886.5 18.4Z"/><path d="M1882 34.1V25H1872.9L1876.4 28.5L1872.6 32.3L1874.7 34.4L1878.5 30.6Z"/></g><g><path d="M25 39.3L33 41V49.9L25 48.2Z" fill="#929aa5"/><path d="M25.6 38.8L32.6 36.5L35 37.2V48.3L33.6 48.6V40.2L27 38.9Z" fill="#7d8592"/><circle cx="28.6" cy="42.5" r="0.9" fill="#161a1e"/><rect x="27.9" y="44.3" width="1.4" height="3.2" rx="0.6" fill="#161a1e"/></g><rect x="501.1" y="79.0" width="16.9" height="16.9" fill="#848e9c" fill-opacity="0.165"/><path d="M503.25 87.45Q506.55 82.85000000000001 509.55 82.85000000000001Q512.55 82.85000000000001 515.85 87.45Q512.55 92.05 509.55 92.05Q506.55 92.05 503.25 87.45Z" stroke="#181b1f" stroke-width="1.1" fill="none"/><circle cx="509.55" cy="87.45" r="2.2" stroke="#181b1f" stroke-width="1.1" fill="none"/><rect x="526.1" y="79.0" width="16.9" height="16.9" fill="#848e9c" fill-opacity="0.165"/><path d="M534.55 82.15L536.60 83.90L539.14 84.80L538.65 87.45L539.14 90.10L536.60 91.00L534.55 92.75L532.50 91.00L529.96 90.10L530.45 87.45L529.96 84.80L532.50 83.90Z" stroke="#181b1f" stroke-width="1.1" fill="none" stroke-linejoin="round"/><circle cx="534.5500000000001" cy="87.45" r="1.7" stroke="#181b1f" stroke-width="1.1" fill="none"/><rect x="551.1" y="79.0" width="16.9" height="16.9" fill="#848e9c" fill-opacity="0.165"/><path d="M555.6500000000001 83.75L563.45 91.15M563.45 83.75L555.6500000000001 91.15" stroke="#181b1f" stroke-width="1.1" fill="none"/><rect x="344.2" y="713.0" width="16.9" height="16.9" fill="#848e9c" fill-opacity="0.165"/><path d="M346.34999999999997 721.45Q349.65 716.85 352.65 716.85Q355.65 716.85 358.95 721.45Q355.65 726.0500000000001 352.65 726.0500000000001Q349.65 726.0500000000001 346.34999999999997 721.45Z" stroke="#181b1f" stroke-width="1.1" fill="none"/><circle cx="352.65" cy="721.45" r="2.2" stroke="#181b1f" stroke-width="1.1" fill="none"/><rect x="369.1" y="713.0" width="16.9" height="16.9" fill="#848e9c" fill-opacity="0.165"/><path d="M377.55 716.15L379.60 717.90L382.14 718.80L381.65 721.45L382.14 724.10L379.60 725.00L377.55 726.75L375.50 725.00L372.96 724.10L373.45 721.45L372.96 718.80L375.50 717.90Z" stroke="#181b1f" stroke-width="1.1" fill="none" stroke-linejoin="round"/><circle cx="377.55" cy="721.45" r="1.7" stroke="#181b1f" stroke-width="1.1" fill="none"/><rect x="394.1" y="713.0" width="16.9" height="16.9" fill="#848e9c" fill-opacity="0.165"/><path d="M398.65000000000003 717.75L406.45 725.1500000000001M406.45 717.75L398.65000000000003 725.1500000000001" stroke="#181b1f" stroke-width="1.1" fill="none"/><path d="M-1 788.6H8.5Q12.4 788.6 12.4 792.5V823.5Q12.4 827.4 8.5 827.4H-1Z" fill="#12141c" stroke="#3d424d" stroke-width="1"/><path d="M3.3 804.5L6.8 807.2L3.3 809.9" stroke="#9aa0a8" stroke-width="1.2" fill="none"/><rect x="14" y="834" width="63" height="63" rx="10" fill="#6aa9e6"/><path d="M44.8 839.2C40 843.5 33 846.3 27.1 847.4C26.5 862 31 876 44.8 884C58.6 876 63.1 862 62.5 847.4C56.6 846.3 49.6 843.5 44.8 839.2Z" fill="#ffffff"/><path d="M39.4 861.5L44.5 866.6L52.4 856.6" stroke="#6aa9e6" stroke-width="1.6" fill="none"/>
</svg>
</body></html>
